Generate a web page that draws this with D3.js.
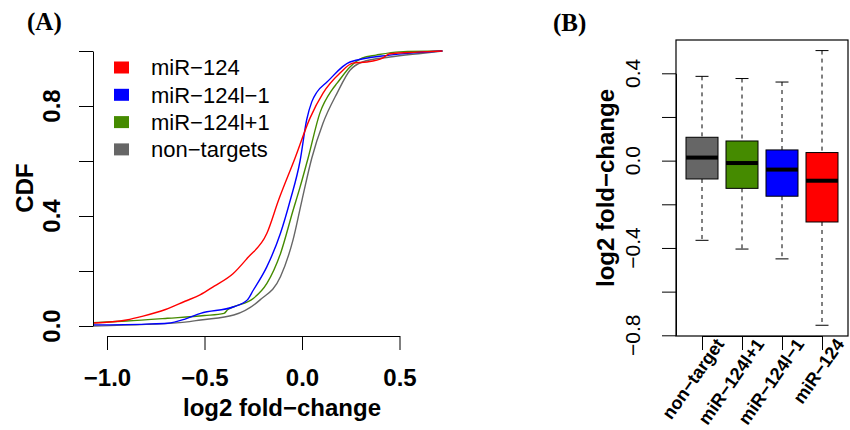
<!DOCTYPE html>
<html>
<head>
<meta charset="utf-8">
<script src="https://cdn.jsdelivr.net/npm/d3@7"></script>
<style>
  body { margin: 0; background: #fff; }
  svg { font-family: "Liberation Sans", Arial, sans-serif; }
</style>
</head>
<body>
<svg id="canvas"></svg>
<script>
// ---- data ----
// panel A: empirical CDFs of log2 fold-change
const cdfNames = ["miR\u2212124", "miR\u2212124l\u22121", "miR\u2212124l+1", "non\u2212targets"];

const redX = [-1.07, -0.9, -0.815, -0.7, -0.6, -0.523, -0.45, -0.354, -0.28, -0.18, -0.12, -0.036, 0.041, 0.108, 0.195, 0.26, 0.333, 0.415, 0.45, 0.59, 0.72];
const redY = [0.011, 0.022, 0.036, 0.06, 0.09, 0.113, 0.145, 0.19, 0.247, 0.337, 0.458, 0.61, 0.756, 0.847, 0.92, 0.956, 0.96, 0.975, 0.99, 0.996, 1.0];

const blueX = [-1.07, -0.8, -0.69, -0.6, -0.52, -0.35, -0.28, -0.25, -0.18, -0.11, -0.06, -0.01, 0.024, 0.05, 0.076, 0.128, 0.246, 0.45, 0.57, 0.72];
const blueY = [0.004, 0.007, 0.01, 0.025, 0.046, 0.07, 0.095, 0.13, 0.216, 0.338, 0.458, 0.6, 0.75, 0.815, 0.85, 0.887, 0.96, 0.985, 0.993, 1.0];

const greenX = [-1.07, -0.9, -0.69, -0.5, -0.4, -0.38, -0.35, -0.25, -0.18, -0.11, -0.046, -0.01, 0.031, 0.092, 0.153, 0.18, 0.246, 0.31, 0.38, 0.5, 0.72];
const greenY = [0.012, 0.018, 0.028, 0.038, 0.046, 0.06, 0.07, 0.1, 0.155, 0.264, 0.42, 0.505, 0.61, 0.775, 0.858, 0.883, 0.942, 0.975, 0.985, 0.997, 1.0];

const grayX = [-1.07, -0.8, -0.6, -0.52, -0.35, -0.215, -0.11, -0.046, 0.0, 0.05, 0.108, 0.18, 0.246, 0.31, 0.45, 0.62, 0.72];
const grayY = [0.0, 0.006, 0.014, 0.022, 0.04, 0.095, 0.18, 0.313, 0.458, 0.61, 0.738, 0.847, 0.93, 0.96, 0.978, 0.992, 1.0];

const cdfXTicks = [-1.0, -0.5, 0.0, 0.5];
const cdfYTicks = [0, 0.2, 0.4, 0.6, 0.8, 1.0];
const cdfYLabels = [0, 0.4, 0.8];

// panel B: boxplots
const boxCats = ["non\u2212target", "miR\u2212124l+1", "miR\u2212124l\u22121", "miR\u2212124"];
const boxLow  = [-0.365, -0.405, -0.45, -0.754];
const boxQ1   = [-0.084, -0.127, -0.163, -0.281];
const boxMed  = [0.014, -0.011, -0.041, -0.092];
const boxQ3   = [0.107, 0.09, 0.049, 0.037];
const boxHigh = [0.386, 0.376, 0.36, 0.504];

const boxYTicks = [-0.8, -0.6, -0.4, -0.2, 0.0, 0.2, 0.4];
const boxYLabels = [-0.8, -0.4, 0.0, 0.4];

// ---- setup ----
const width = 850, height = 430;
const svg = d3.select("#canvas").attr("width", width).attr("height", height);
svg.append("rect").attr("width", width).attr("height", height).attr("fill", "#fff");

const colorA = d3.scaleOrdinal()
    .domain(cdfNames)
    .range(["#ff0000", "#0000ff", "#458b00", "#666666"]);
const colorB = d3.scaleOrdinal()
    .domain(boxCats)
    .range(["#666666", "#458b00", "#0000ff", "#ff0000"]);

const fmt = d3.format(".1f");

// ================= panel A =================
const plotA = {left: 93, right: 443, top: 40, bottom: 336};
const xA = d3.scaleLinear().domain([-1.0, 0.5]).range([107, 399.5]);
const yA = d3.scaleLinear().domain([0, 1]).range([326, 51]);

svg.append("defs").append("clipPath").attr("id", "clipA")
    .append("rect")
    .attr("x", plotA.left).attr("y", plotA.top)
    .attr("width", plotA.right - plotA.left).attr("height", plotA.bottom - plotA.top);

const curves = [
    {name: cdfNames[3], xs: grayX, ys: grayY},
    {name: cdfNames[2], xs: greenX, ys: greenY},
    {name: cdfNames[1], xs: blueX, ys: blueY},
    {name: cdfNames[0], xs: redX, ys: redY}
];

const line = d3.line()
    .x(d => xA(d[0]))
    .y(d => yA(d[1]))
    .curve(d3.curveMonotoneX);

svg.append("g")
    .attr("clip-path", "url(#clipA)")
    .selectAll("path")
    .data(curves)
    .join("path")
    .attr("fill", "none")
    .attr("stroke", d => colorA(d.name))
    .attr("stroke-width", 1.4)
    .attr("d", d => line(d.xs.map((x, i) => [x, d.ys[i]])));

// x axis
const gxA = svg.append("g")
    .attr("transform", `translate(0,${plotA.bottom})`)
    .call(d3.axisBottom(xA).tickValues(cdfXTicks).tickSize(14).tickSizeOuter(0).tickPadding(19).tickFormat(fmt));
gxA.selectAll("text").attr("font-size", 24).attr("font-weight", "bold")
    .attr("font-family", "Liberation Sans, Arial, sans-serif").attr("fill", "#000");
gxA.selectAll("line,path").attr("stroke", "#000");

// y axis
const gyA = svg.append("g")
    .attr("transform", `translate(${plotA.left},0)`)
    .call(d3.axisLeft(yA).tickValues(cdfYTicks).tickSize(14).tickSizeOuter(0).tickFormat(""));
gyA.selectAll("line,path").attr("stroke", "#000");

svg.append("g").selectAll("text")
    .data(cdfYLabels)
    .join("text")
    .attr("transform", d => `translate(60,${yA(d)}) rotate(-90)`)
    .attr("text-anchor", "middle")
    .attr("font-size", 24)
    .attr("font-weight", "bold")
    .text(d => fmt(d));

svg.append("text")
    .attr("transform", `translate(33,188) rotate(-90)`)
    .attr("text-anchor", "middle")
    .attr("font-size", 24)
    .attr("font-weight", "bold")
    .text("CDF");

svg.append("text")
    .attr("x", 282).attr("y", 416)
    .attr("text-anchor", "middle")
    .attr("font-size", 24)
    .attr("font-weight", "bold")
    .text("log2 fold\u2212change");

// legend
const legend = svg.append("g");
legend.selectAll("rect")
    .data(cdfNames)
    .join("rect")
    .attr("x", 114)
    .attr("y", (d, i) => 61.5 + i * 27.3)
    .attr("width", 15)
    .attr("height", 12)
    .attr("fill", d => colorA(d));
legend.selectAll("text")
    .data(cdfNames)
    .join("text")
    .attr("x", 151)
    .attr("y", (d, i) => 67.5 + i * 27.3)
    .attr("dy", "0.35em")
    .attr("font-size", 22)
    .text(d => d);

svg.append("text")
    .attr("x", 27).attr("y", 30)
    .attr("font-family", "Liberation Serif, Times New Roman, serif")
    .attr("font-weight", "bold")
    .attr("font-size", 25)
    .text("(A)");

// ================= panel B =================
const plotB = {left: 676, right: 848, top: 40, bottom: 336};
const xB = d3.scalePoint().domain(boxCats).range([702, 822]);
const yB = d3.scaleLinear().domain([-0.8, 0.4]).range([335.3, 73.3]);
const boxW = 32, capW = 13;

svg.append("rect")
    .attr("x", plotB.left).attr("y", plotB.top)
    .attr("width", plotB.right - plotB.left).attr("height", plotB.bottom - plotB.top)
    .attr("fill", "none").attr("stroke", "#000").attr("stroke-width", 1.2);

const boxes = svg.append("g").selectAll("g")
    .data(boxCats)
    .join("g");

// whiskers
boxes.append("line")
    .attr("x1", d => xB(d)).attr("x2", d => xB(d))
    .attr("y1", (d, i) => yB(boxHigh[i])).attr("y2", (d, i) => yB(boxQ3[i]))
    .attr("stroke", "#000").attr("stroke-dasharray", "4,4");
boxes.append("line")
    .attr("x1", d => xB(d)).attr("x2", d => xB(d))
    .attr("y1", (d, i) => yB(boxQ1[i])).attr("y2", (d, i) => yB(boxLow[i]))
    .attr("stroke", "#000").attr("stroke-dasharray", "4,4");
// caps
boxes.append("line")
    .attr("x1", d => xB(d) - capW / 2).attr("x2", d => xB(d) + capW / 2)
    .attr("y1", (d, i) => yB(boxHigh[i])).attr("y2", (d, i) => yB(boxHigh[i]))
    .attr("stroke", "#000");
boxes.append("line")
    .attr("x1", d => xB(d) - capW / 2).attr("x2", d => xB(d) + capW / 2)
    .attr("y1", (d, i) => yB(boxLow[i])).attr("y2", (d, i) => yB(boxLow[i]))
    .attr("stroke", "#000");
// box
boxes.append("rect")
    .attr("x", d => xB(d) - boxW / 2)
    .attr("y", (d, i) => yB(boxQ3[i]))
    .attr("width", boxW)
    .attr("height", (d, i) => yB(boxQ1[i]) - yB(boxQ3[i]))
    .attr("fill", d => colorB(d))
    .attr("stroke", "#000");
// median
boxes.append("line")
    .attr("x1", d => xB(d) - boxW / 2).attr("x2", d => xB(d) + boxW / 2)
    .attr("y1", (d, i) => yB(boxMed[i])).attr("y2", (d, i) => yB(boxMed[i]))
    .attr("stroke", "#000").attr("stroke-width", 4);

// y axis
const gyB = svg.append("g")
    .attr("transform", `translate(${plotB.left},0)`)
    .call(d3.axisLeft(yB).tickValues(boxYTicks).tickSize(14).tickSizeOuter(0).tickFormat(""));
gyB.selectAll("line,path").attr("stroke", "#000");

svg.append("g").selectAll("text")
    .data(boxYLabels)
    .join("text")
    .attr("transform", d => `translate(640,${yB(d)}) rotate(-90)`)
    .attr("text-anchor", "middle")
    .attr("font-size", 21)
    .text(d => fmt(d));

svg.append("text")
    .attr("transform", `translate(614,188) rotate(-90)`)
    .attr("text-anchor", "middle")
    .attr("font-size", 24)
    .attr("font-weight", "bold")
    .text("log2 fold\u2212change");

// x axis
const gxB = svg.append("g")
    .attr("transform", `translate(0,${plotB.bottom})`)
    .call(d3.axisBottom(xB).tickSize(14).tickSizeOuter(0).tickFormat(""));
gxB.selectAll("line,path").attr("stroke", "#000");

svg.append("g").selectAll("text")
    .data(boxCats)
    .join("text")
    .attr("transform", d => `translate(${xB(d) + 23},344) rotate(-55)`)
    .attr("text-anchor", "end")
    .attr("font-size", 18)
    .attr("font-weight", "bold")
    .text(d => d);

svg.append("text")
    .attr("x", 553).attr("y", 31)
    .attr("font-family", "Liberation Serif, Times New Roman, serif")
    .attr("font-weight", "bold")
    .attr("font-size", 25)
    .text("(B)");
</script>
</body>
</html>
